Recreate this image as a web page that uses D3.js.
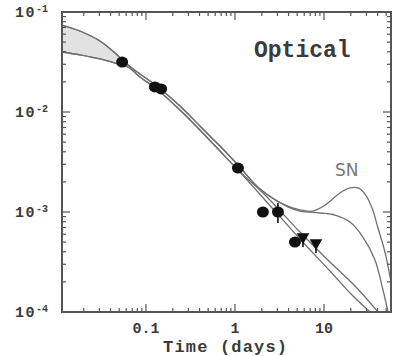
<!DOCTYPE html>
<html>
<head>
<meta charset="utf-8">
<script src="https://cdn.jsdelivr.net/npm/d3@7"></script>
<style>
  html, body { margin: 0; padding: 0; background: #fff; }
  svg { display: block; }
  text { font-family: "Liberation Mono", "DejaVu Sans Mono", monospace; font-weight: bold; fill: #3a3a3a; }
</style>
</head>
<body>
<svg id="chart" width="405" height="356"></svg>
<script>
// Light-curve band (early-time model range)
const bandTimes      = [0.0114, 0.0181, 0.0304, 0.0449, 0.0628];
const bandUpperFlux  = [0.0741, 0.0646, 0.0513, 0.0389, 0.0295];
const bandLowerFlux  = [0.0398, 0.0372, 0.0339, 0.0309, 0.0282];

// Shared decline of the model curves
const trunkTimes     = [0.0628, 0.0857, 0.136, 0.241, 0.404, 0.678, 1.081];
const trunkUpperFlux = [0.0295, 0.0240, 0.0178, 0.01148, 0.00724, 0.00457, 0.00295];
const trunkLowerFlux = [0.0282, 0.0224, 0.0166, 0.01047, 0.00661, 0.00407, 0.00263];

// Late-time branches
const snTimes   = [1.91, 3.84, 5.37, 7.33, 10.26, 15.1, 19.6, 24.1, 28.9, 34.6, 40.4, 48.4, 56.6];
const snFlux    = [0.00170, 0.00115, 0.00105, 0.00102, 0.00117, 0.00155, 0.00174, 0.00174, 0.00151, 0.00110, 0.000692, 0.000398, 0.000200];
const flatTimes = [1.91, 3.84, 5.37, 9.02, 13.3, 19.6, 27.4, 37.4, 46.0, 52.4];
const flatFlux  = [0.00170, 0.00114, 0.00102, 0.000977, 0.000933, 0.000794, 0.000562, 0.000331, 0.000166, 0.0001];
const midTimes  = [2.175, 5.37, 11.67, 22.3, 40.4];
const midFlux   = [0.00148, 0.000631, 0.000316, 0.000182, 0.0001];
const lowTimes  = [2.175, 5.37, 11.67, 19.6, 32.9];
const lowFlux   = [0.00132, 0.000537, 0.000257, 0.000155, 0.0001];

// Observations
const obsTimes  = [0.054, 0.126, 0.148, 1.08, 2.06, 3.04, 4.72];
const obsFlux   = [0.0316, 0.0178, 0.0170, 0.00275, 0.00100, 0.00100, 0.000500];
const errTime   = 3.04, errLow = 0.000776, errHigh = 0.00123;
const limTimes  = [5.81, 8.13];
const limFlux   = [0.000562, 0.00049];

// Axis labels
const xTickValues = [0.1, 1, 10];
const xTickLabels = ["0.1", "1", "10"];
const yTickValues = [1e-1, 1e-2, 1e-3, 1e-4];
const yTickExps   = ["-1", "-2", "-3", "-4"];
const xTitle = "Time (days)";
const panelTitle = "Optical";
const snLabel = "SN";

const svg = d3.select("#chart");
const pLeft = 62, pRight = 391, pTop = 12, pBottom = 312;

const x = d3.scaleLog().domain([0.0114, 56.6]).range([pLeft, pRight]);
const y = d3.scaleLog().domain([1e-4, 1e-1]).range([pBottom, pTop]);

svg.append("clipPath").attr("id", "plotClip")
  .append("rect").attr("x", pLeft).attr("y", pTop)
  .attr("width", pRight - pLeft).attr("height", pBottom - pTop);

const plot = svg.append("g").attr("clip-path", "url(#plotClip)");

const zip = (ts, fs) => ts.map((t, i) => [t, fs[i]]);
const smooth = d3.curveCatmullRom.alpha(0.5);
const line = d3.line().x(d => x(d[0])).y(d => y(d[1])).curve(smooth);

// Shaded band
const bandArea = d3.area()
  .x(d => x(d.t)).y0(d => y(d.lo)).y1(d => y(d.hi))
  .curve(smooth);
plot.append("path")
  .datum(bandTimes.map((t, i) => ({t, hi: bandUpperFlux[i], lo: bandLowerFlux[i]})))
  .attr("d", bandArea).attr("fill", "#e2e2e2");

const upperTrunk = zip(bandTimes, bandUpperFlux).concat(zip(trunkTimes, trunkUpperFlux).slice(1));
const lowerTrunk = zip(bandTimes, bandLowerFlux).concat(zip(trunkTimes, trunkLowerFlux).slice(1));

const curves = [
  upperTrunk.concat(zip(snTimes, snFlux)),
  upperTrunk.concat(zip(flatTimes, flatFlux)),
  lowerTrunk.concat(zip(midTimes, midFlux)),
  lowerTrunk.concat(zip(lowTimes, lowFlux))
];
plot.selectAll("path.model").data(curves).join("path")
  .attr("class", "model").attr("d", line)
  .attr("fill", "none").attr("stroke", "#707070").attr("stroke-width", 1.3);

// Error bar
plot.append("line")
  .attr("x1", x(errTime)).attr("x2", x(errTime))
  .attr("y1", y(errHigh)).attr("y2", y(errLow))
  .attr("stroke", "#111").attr("stroke-width", 1.6);

// Detections
plot.selectAll("ellipse.obs").data(zip(obsTimes, obsFlux)).join("ellipse")
  .attr("class", "obs")
  .attr("cx", d => x(d[0])).attr("cy", d => y(d[1]))
  .attr("rx", 6).attr("ry", 5.5).attr("fill", "#111");

// Upper limits
const tri = d3.symbol().type(d3.symbolTriangle).size(70);
plot.selectAll("g.lim").data(zip(limTimes, limFlux)).join("g")
  .attr("class", "lim")
  .attr("transform", d => `translate(${x(d[0])},${y(d[1])})`)
  .each(function() {
    const g = d3.select(this);
    g.append("path").attr("d", tri).attr("transform", "rotate(180)").attr("fill", "#111");
    g.append("line").attr("x1", 0).attr("x2", 0).attr("y1", 0).attr("y2", 10)
      .attr("stroke", "#111").attr("stroke-width", 1.6);
  });

// Frame
svg.append("rect").attr("x", pLeft).attr("y", pTop)
  .attr("width", pRight - pLeft).attr("height", pBottom - pTop)
  .attr("fill", "none").attr("stroke", "#555").attr("stroke-width", 2);

// Minor/major ticks, pointing inward on all four sides
const xMinor = [];
for (let e = -2; e <= 1; e++) for (let m = 1; m <= 9; m++) {
  const v = m * Math.pow(10, e);
  if (v >= x.domain()[0] && v <= x.domain()[1]) xMinor.push(v);
}
const yMinor = [];
for (let e = -4; e <= -2; e++) for (let m = 1; m <= 9; m++) yMinor.push(m * Math.pow(10, e));

const ticks = svg.append("g").attr("stroke", "#555").attr("stroke-width", 1.2);
xMinor.forEach(v => {
  const len = xTickValues.includes(v) ? 8 : 4;
  ticks.append("line").attr("x1", x(v)).attr("x2", x(v)).attr("y1", pBottom).attr("y2", pBottom - len);
  ticks.append("line").attr("x1", x(v)).attr("x2", x(v)).attr("y1", pTop).attr("y2", pTop + len);
});
yMinor.forEach(v => {
  const major = Math.abs(Math.log10(v) - Math.round(Math.log10(v))) < 1e-9;
  const len = major ? 8 : 4;
  ticks.append("line").attr("x1", pLeft).attr("x2", pLeft + len).attr("y1", y(v)).attr("y2", y(v));
  ticks.append("line").attr("x1", pRight).attr("x2", pRight - len).attr("y1", y(v)).attr("y2", y(v));
});

// X tick labels
svg.selectAll("text.xt").data(xTickValues).join("text")
  .attr("class", "xt")
  .attr("x", d => x(d)).attr("y", 333)
  .attr("text-anchor", "middle").attr("font-size", 15)
  .text((d, i) => xTickLabels[i]);

// Y tick labels: 10 with superscript exponent
yTickValues.forEach((v, i) => {
  const t = svg.append("text").attr("x", 15).attr("y", y(v) + 5).attr("font-size", 15)
    .attr("letter-spacing", 1.5);
  t.append("tspan").text("10");
  t.append("tspan").attr("dy", -5).attr("font-size", 10).attr("letter-spacing", 0).text(yTickExps[i]);
});

// Titles
svg.append("text").attr("x", 225).attr("y", 352).attr("text-anchor", "middle")
  .attr("font-size", 17).attr("textLength", 124).text(xTitle);
svg.append("text").attr("x", 254).attr("y", 57).attr("font-size", 23).text(panelTitle);
svg.append("text").attr("x", 335).attr("y", 176).attr("font-size", 17)
  .style("font-weight", "normal").style("font-family", "'DejaVu Sans', sans-serif")
  .style("fill", "#777").text(snLabel);
</script>
</body>
</html>
